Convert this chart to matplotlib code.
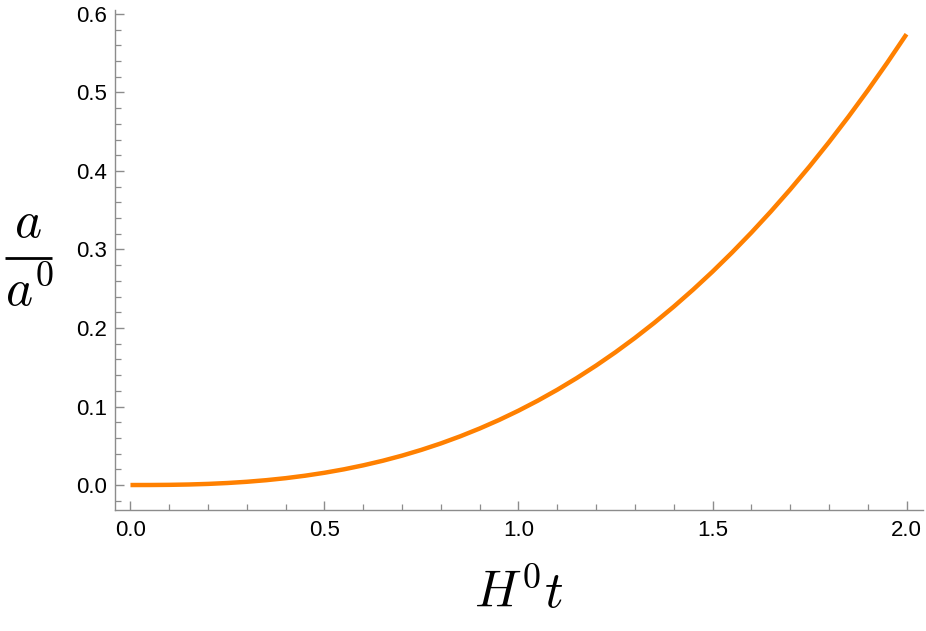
import matplotlib
matplotlib.use("Agg")
import matplotlib.pyplot as plt
from matplotlib.lines import Line2D
from matplotlib.ticker import MultipleLocator, FormatStrFormatter

# Data
t_values = [0.00, 0.05, 0.10, 0.15, 0.20, 0.25, 0.30, 0.35, 0.40, 0.45,
            0.50, 0.55, 0.60, 0.65, 0.70, 0.75, 0.80, 0.85, 0.90, 0.95,
            1.00, 1.05, 1.10, 1.15, 1.20, 1.25, 1.30, 1.35, 1.40, 1.45,
            1.50, 1.55, 1.60, 1.65, 1.70, 1.75, 1.80, 1.85, 1.90, 1.95,
            2.00]
a_values = [0.00000, 0.00004, 0.00024, 0.00068, 0.00144, 0.00258, 0.00414,
            0.00618, 0.00874, 0.01188, 0.01562, 0.02001, 0.02510, 0.03089,
            0.03746, 0.04483, 0.05301, 0.06207, 0.07201, 0.08287, 0.09470,
            0.10751, 0.12134, 0.13620, 0.15214, 0.16917, 0.18733, 0.20664,
            0.22713, 0.24883, 0.27175, 0.29594, 0.32141, 0.34819, 0.37629,
            0.40574, 0.43657, 0.46882, 0.50248, 0.53760, 0.57418]

x_ticks = [0.0, 0.5, 1.0, 1.5, 2.0]
y_ticks = [0.0, 0.1, 0.2, 0.3, 0.4, 0.5, 0.6]

plt.rcParams['mathtext.fontset'] = 'cm'
plt.rcParams['font.family'] = ['Liberation Sans', 'DejaVu Sans']

W, H = 926, 631
fig = plt.figure(figsize=(W / 100, H / 100), dpi=100)
left, right, top, bottom = 115, 923, 10, 510
ax = fig.add_axes([left / W, (H - bottom) / H, (right - left) / W, (bottom - top) / H])

ax.plot(t_values, a_values, color='#FF8000', lw=3.2, solid_capstyle='butt')

ax.set_xlim(-0.0399, 2.0425)
ax.set_ylim(-0.0318, 0.605)

for s in ['top', 'right']:
    ax.spines[s].set_visible(False)
for s in ['left', 'bottom']:
    ax.spines[s].set_color('#8c8c8c')
    ax.spines[s].set_linewidth(1.0)

ax.set_xticks(x_ticks)
ax.set_yticks(y_ticks)
ax.xaxis.set_major_formatter(FormatStrFormatter('%.1f'))
ax.yaxis.set_major_formatter(FormatStrFormatter('%.1f'))
ax.xaxis.set_minor_locator(MultipleLocator(0.1))
ax.yaxis.set_minor_locator(MultipleLocator(0.02))

ax.tick_params(which='both', direction='in', color='#8c8c8c', labelcolor='black',
               labelsize=16)
ax.tick_params(which='major', length=6.5, width=1.0)
ax.tick_params(which='minor', length=4.0, width=0.9)
ax.tick_params(axis='x', which='major', pad=7)
ax.tick_params(axis='y', which='major', pad=6)

ax.set_xlabel(r'$H^0 t$', fontsize=37, va='baseline')
ax.xaxis.set_label_coords(0.5, (bottom - 608) / (bottom - top))

# y label drawn as a display-style fraction: a / a^0
fs = 37
fig.text(27.5 / W, (H - 237) / H, r'$a$', fontsize=fs, ha='center', va='baseline')
fig.text(29.5 / W, (H - 306) / H, r'$a^0$', fontsize=fs, ha='center', va='baseline')
fig.add_artist(Line2D([4.5 / W, 51.5 / W], [(H - 258) / H, (H - 258) / H],
                      transform=fig.transFigure, color='black', lw=2.0,
                      solid_capstyle='butt'))

fig.savefig('out.png', dpi=100)
